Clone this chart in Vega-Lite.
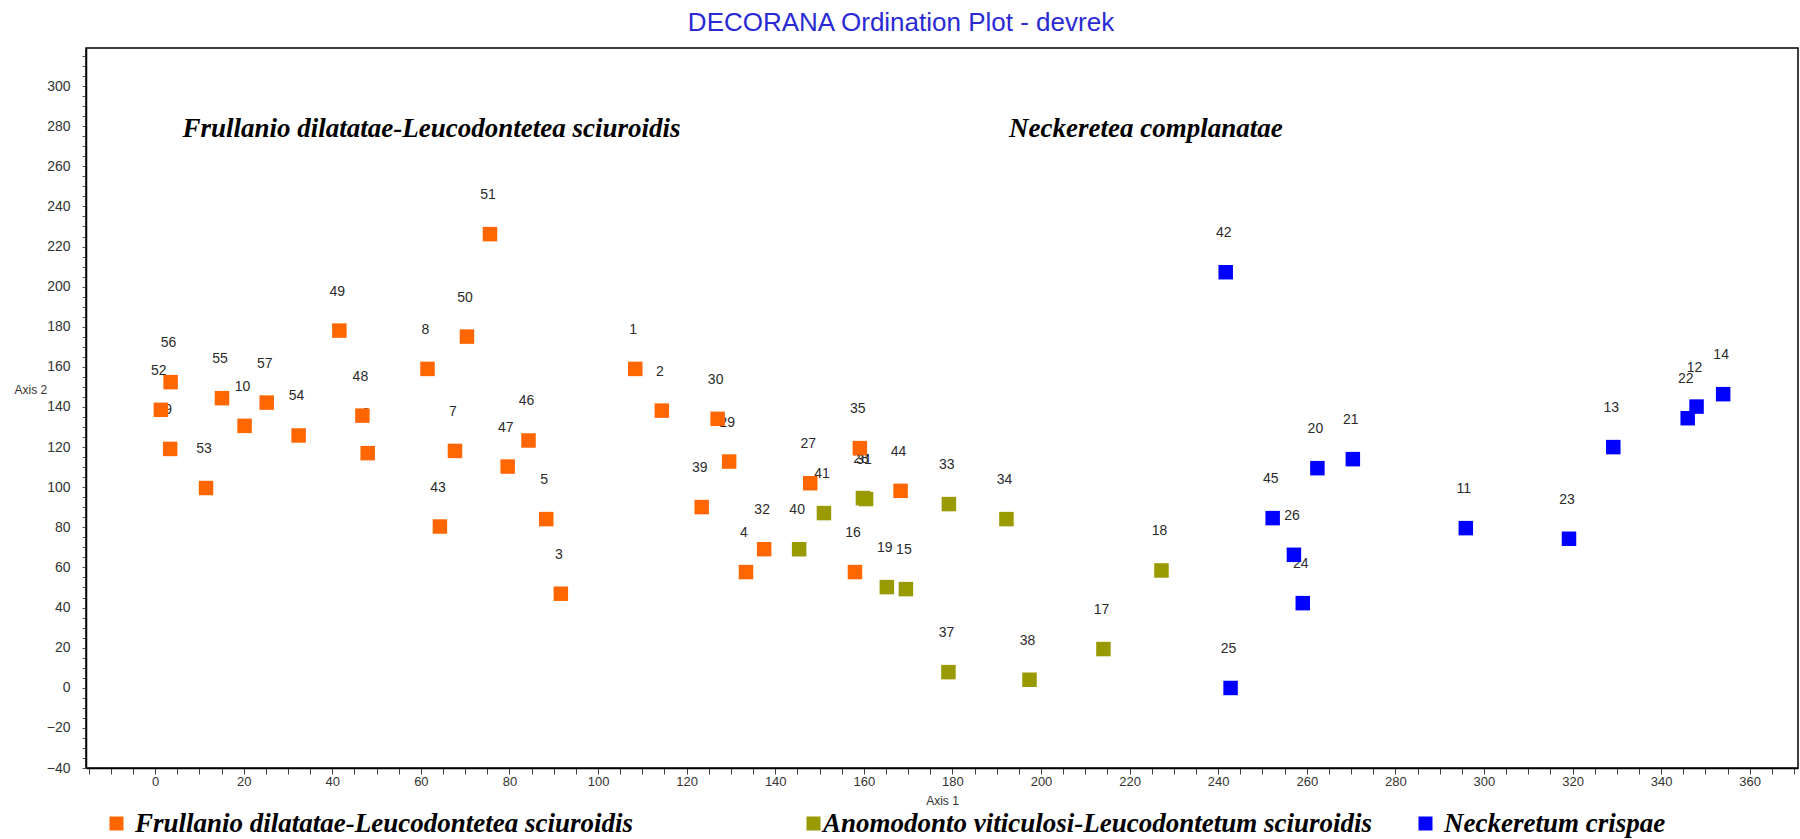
{
  "$schema": "https://vega.github.io/schema/vega-lite/v6.json",
  "width": 1712,
  "height": 720,
  "autosize": {"type": "none"},
  "padding": {"left": 86, "top": 48, "right": 2, "bottom": 71},
  "background": "white",
  "title": {
    "text": "DECORANA Ordination Plot - devrek",
    "font": "Liberation Sans",
    "fontSize": 26,
    "fontWeight": "normal",
    "color": "#2a2ad4",
    "anchor": "middle",
    "dx": -41,
    "offset": 12
  },
  "config": {
    "view": {"stroke": "#000000", "strokeWidth": 1.5},
    "axis": {"labelFont": "Liberation Sans", "titleFont": "Liberation Sans", "grid": false},
    "legend": {
      "title": null,
      "orient": "none",
      "padding": 0,
      "symbolType": "square",
      "symbolSize": 196,
      "symbolStrokeWidth": 0,
      "symbolOpacity": 1,
      "labelFont": "Liberation Serif",
      "labelFontStyle": "italic",
      "labelFontWeight": "bold",
      "labelFontSize": 27,
      "labelColor": "#000000",
      "labelOffset": 5,
      "labelLimit": 1200
    }
  },
  "data": {
    "values": [
      {"site": "51", "axis1": 75.6, "axis2": 226.2, "group": "Frullanio dilatatae-Leucodontetea sciuroidis"},
      {"site": "49", "axis1": 41.6, "axis2": 178.1, "group": "Frullanio dilatatae-Leucodontetea sciuroidis"},
      {"site": "50", "axis1": 70.4, "axis2": 175.1, "group": "Frullanio dilatatae-Leucodontetea sciuroidis"},
      {"site": "8", "axis1": 61.5, "axis2": 159.0, "group": "Frullanio dilatatae-Leucodontetea sciuroidis"},
      {"site": "56", "axis1": 3.5, "axis2": 152.4, "group": "Frullanio dilatatae-Leucodontetea sciuroidis"},
      {"site": "55", "axis1": 15.1, "axis2": 144.4, "group": "Frullanio dilatatae-Leucodontetea sciuroidis"},
      {"site": "52", "axis1": 1.3, "axis2": 138.6, "group": "Frullanio dilatatae-Leucodontetea sciuroidis"},
      {"site": "9", "axis1": 3.4, "axis2": 119.1, "group": "Frullanio dilatatae-Leucodontetea sciuroidis"},
      {"site": "53", "axis1": 11.5, "axis2": 99.6, "group": "Frullanio dilatatae-Leucodontetea sciuroidis"},
      {"site": "10", "axis1": 20.2, "axis2": 130.6, "group": "Frullanio dilatatae-Leucodontetea sciuroidis"},
      {"site": "57", "axis1": 25.2, "axis2": 142.2, "group": "Frullanio dilatatae-Leucodontetea sciuroidis"},
      {"site": "54", "axis1": 32.4, "axis2": 125.8, "group": "Frullanio dilatatae-Leucodontetea sciuroidis"},
      {"site": "48", "axis1": 46.8, "axis2": 135.7, "group": "Frullanio dilatatae-Leucodontetea sciuroidis"},
      {"site": "6", "axis1": 48.0, "axis2": 117.0, "group": "Frullanio dilatatae-Leucodontetea sciuroidis"},
      {"site": "7", "axis1": 67.7, "axis2": 118.1, "group": "Frullanio dilatatae-Leucodontetea sciuroidis"},
      {"site": "46", "axis1": 84.3, "axis2": 123.3, "group": "Frullanio dilatatae-Leucodontetea sciuroidis"},
      {"site": "47", "axis1": 79.6, "axis2": 110.3, "group": "Frullanio dilatatae-Leucodontetea sciuroidis"},
      {"site": "43", "axis1": 64.3, "axis2": 80.4, "group": "Frullanio dilatatae-Leucodontetea sciuroidis"},
      {"site": "5", "axis1": 88.3, "axis2": 84.1, "group": "Frullanio dilatatae-Leucodontetea sciuroidis"},
      {"site": "3", "axis1": 91.6, "axis2": 46.9, "group": "Frullanio dilatatae-Leucodontetea sciuroidis"},
      {"site": "1", "axis1": 108.4, "axis2": 159.0, "group": "Frullanio dilatatae-Leucodontetea sciuroidis"},
      {"site": "2", "axis1": 114.4, "axis2": 138.2, "group": "Frullanio dilatatae-Leucodontetea sciuroidis"},
      {"site": "30", "axis1": 127.0, "axis2": 134.1, "group": "Frullanio dilatatae-Leucodontetea sciuroidis"},
      {"site": "29", "axis1": 129.6, "axis2": 112.8, "group": "Frullanio dilatatae-Leucodontetea sciuroidis"},
      {"site": "35", "axis1": 159.1, "axis2": 119.5, "group": "Frullanio dilatatae-Leucodontetea sciuroidis"},
      {"site": "27", "axis1": 147.9, "axis2": 102.0, "group": "Frullanio dilatatae-Leucodontetea sciuroidis"},
      {"site": "44", "axis1": 168.3, "axis2": 98.2, "group": "Frullanio dilatatae-Leucodontetea sciuroidis"},
      {"site": "39", "axis1": 123.4, "axis2": 90.1, "group": "Frullanio dilatatae-Leucodontetea sciuroidis"},
      {"site": "32", "axis1": 137.5, "axis2": 69.1, "group": "Frullanio dilatatae-Leucodontetea sciuroidis"},
      {"site": "4", "axis1": 133.4, "axis2": 57.7, "group": "Frullanio dilatatae-Leucodontetea sciuroidis"},
      {"site": "16", "axis1": 158.0, "axis2": 57.7, "group": "Frullanio dilatatae-Leucodontetea sciuroidis"},
      {"site": "28", "axis1": 159.8, "axis2": 94.6, "group": "Anomodonto viticulosi-Leucodontetum sciuroidis"},
      {"site": "31", "axis1": 160.5, "axis2": 94.1, "group": "Anomodonto viticulosi-Leucodontetum sciuroidis"},
      {"site": "41", "axis1": 151.0, "axis2": 87.1, "group": "Anomodonto viticulosi-Leucodontetum sciuroidis"},
      {"site": "40", "axis1": 145.4, "axis2": 69.1, "group": "Anomodonto viticulosi-Leucodontetum sciuroidis"},
      {"site": "19", "axis1": 165.2, "axis2": 50.2, "group": "Anomodonto viticulosi-Leucodontetum sciuroidis"},
      {"site": "15", "axis1": 169.5, "axis2": 49.2, "group": "Anomodonto viticulosi-Leucodontetum sciuroidis"},
      {"site": "33", "axis1": 179.2, "axis2": 91.6, "group": "Anomodonto viticulosi-Leucodontetum sciuroidis"},
      {"site": "34", "axis1": 192.2, "axis2": 84.1, "group": "Anomodonto viticulosi-Leucodontetum sciuroidis"},
      {"site": "37", "axis1": 179.1, "axis2": 7.8, "group": "Anomodonto viticulosi-Leucodontetum sciuroidis"},
      {"site": "38", "axis1": 197.4, "axis2": 4.0, "group": "Anomodonto viticulosi-Leucodontetum sciuroidis"},
      {"site": "17", "axis1": 214.1, "axis2": 19.3, "group": "Anomodonto viticulosi-Leucodontetum sciuroidis"},
      {"site": "18", "axis1": 227.2, "axis2": 58.5, "group": "Anomodonto viticulosi-Leucodontetum sciuroidis"},
      {"site": "42", "axis1": 241.7, "axis2": 207.2, "group": "Neckeretum crispae"},
      {"site": "20", "axis1": 262.4, "axis2": 109.5, "group": "Neckeretum crispae"},
      {"site": "21", "axis1": 270.4, "axis2": 114.0, "group": "Neckeretum crispae"},
      {"site": "45", "axis1": 252.3, "axis2": 84.6, "group": "Neckeretum crispae"},
      {"site": "26", "axis1": 257.1, "axis2": 66.3, "group": "Neckeretum crispae"},
      {"site": "24", "axis1": 259.1, "axis2": 42.2, "group": "Neckeretum crispae"},
      {"site": "25", "axis1": 242.8, "axis2": -0.1, "group": "Neckeretum crispae"},
      {"site": "11", "axis1": 295.9, "axis2": 79.6, "group": "Neckeretum crispae"},
      {"site": "23", "axis1": 319.2, "axis2": 74.3, "group": "Neckeretum crispae"},
      {"site": "13", "axis1": 329.2, "axis2": 120.0, "group": "Neckeretum crispae"},
      {"site": "22", "axis1": 346.0, "axis2": 134.4, "group": "Neckeretum crispae"},
      {"site": "12", "axis1": 348.0, "axis2": 140.2, "group": "Neckeretum crispae"},
      {"site": "14", "axis1": 354.0, "axis2": 146.4, "group": "Neckeretum crispae"}
    ]
  },
  "encoding": {
    "x": {
      "field": "axis1", "type": "quantitative",
      "scale": {"domain": [-15.6, 370.9], "nice": false, "zero": false},
      "axis": {
        "title": "Axis 1",
        "titleFontSize": 12, "titleFontWeight": "normal", "titleColor": "#333333", "titlePadding": 7,
        "values": [-15,-10,-5,0,5,10,15,20,25,30,35,40,45,50,55,60,65,70,75,80,85,90,95,100,105,110,115,120,125,130,135,140,145,150,155,160,165,170,175,180,185,190,195,200,205,210,215,220,225,230,235,240,245,250,255,260,265,270,275,280,285,290,295,300,305,310,315,320,325,330,335,340,345,350,355,360,365,370],
        "labelExpr": "datum.value % 20 == 0 ? datum.label : ''",
        "labelOverlap": false, "labelFlush": false,
        "labelFontSize": 13, "labelColor": "#333333", "labelPadding": 1,
        "tickSize": 6, "tickColor": "#444444",
        "domainColor": "#000000", "domainWidth": 1.5
      }
    },
    "y": {
      "field": "axis2", "type": "quantitative",
      "scale": {"domain": [-40, 319], "nice": false, "zero": false},
      "axis": {
        "title": "Axis 2",
        "titleAngle": 0, "titleAlign": "left", "titleBaseline": "middle",
        "titleX": -72, "titleY": 341,
        "titleFontSize": 12, "titleFontWeight": "normal", "titleColor": "#333333",
        "values": [-40,-35,-30,-25,-20,-15,-10,-5,0,5,10,15,20,25,30,35,40,45,50,55,60,65,70,75,80,85,90,95,100,105,110,115,120,125,130,135,140,145,150,155,160,165,170,175,180,185,190,195,200,205,210,215,220,225,230,235,240,245,250,255,260,265,270,275,280,285,290,295,300,305,310,315],
        "labelExpr": "datum.value % 20 == 0 ? datum.label : ''",
        "labelOverlap": false, "labelFlush": false,
        "labelFontSize": 14, "labelColor": "#333333", "labelPadding": 12,
        "tickSize": 4, "tickColor": "#555555",
        "domainColor": "#000000", "domainWidth": 1.5
      }
    }
  },
  "resolve": {"scale": {"color": "independent"}, "legend": {"color": "independent"}},
  "layer": [
    {
      "mark": {"type": "text", "font": "Liberation Sans", "fontSize": 14, "color": "#2b2b2b", "dx": -2, "dy": -39, "baseline": "middle", "align": "center"},
      "encoding": {"text": {"field": "site"}}
    },
    {
      "transform": [{"filter": "datum.group == 'Frullanio dilatatae-Leucodontetea sciuroidis'"}],
      "mark": {"type": "point", "shape": "square", "filled": true, "opacity": 1, "size": 210, "strokeWidth": 0},
      "encoding": {
        "color": {
          "field": "group", "type": "nominal",
          "scale": {"domain": ["Frullanio dilatatae-Leucodontetea sciuroidis"], "range": ["#ff6600"]},
          "legend": {"legendX": 17, "legendY": 762}
        }
      }
    },
    {
      "transform": [{"filter": "datum.group == 'Anomodonto viticulosi-Leucodontetum sciuroidis'"}],
      "mark": {"type": "point", "shape": "square", "filled": true, "opacity": 1, "size": 210, "strokeWidth": 0},
      "encoding": {
        "color": {
          "field": "group", "type": "nominal",
          "scale": {"domain": ["Anomodonto viticulosi-Leucodontetum sciuroidis"], "range": ["#999900"]},
          "legend": {"legendX": 714, "legendY": 762, "labelOffset": -4}
        }
      }
    },
    {
      "transform": [{"filter": "datum.group == 'Neckeretum crispae'"}],
      "mark": {"type": "point", "shape": "square", "filled": true, "opacity": 1, "size": 210, "strokeWidth": 0},
      "encoding": {
        "color": {
          "field": "group", "type": "nominal",
          "scale": {"domain": ["Neckeretum crispae"], "range": ["#0000ff"]},
          "legend": {"legendX": 1326, "legendY": 762}
        }
      }
    },
    {
      "transform": [{"filter": "datum.site == '1'"}],
      "mark": {"type": "text", "text": "Frullanio dilatatae-Leucodontetea sciuroidis", "font": "Liberation Serif", "fontStyle": "italic", "fontWeight": "bold", "fontSize": 27, "color": "#000000", "align": "left", "baseline": "middle"},
      "encoding": {"x": {"datum": 6.2}, "y": {"datum": 278.7}}
    },
    {
      "transform": [{"filter": "datum.site == '1'"}],
      "mark": {"type": "text", "text": "Neckeretea complanatae", "font": "Liberation Serif", "fontStyle": "italic", "fontWeight": "bold", "fontSize": 27, "color": "#000000", "align": "left", "baseline": "middle"},
      "encoding": {"x": {"datum": 192.8}, "y": {"datum": 278.7}}
    }
  ]
}
